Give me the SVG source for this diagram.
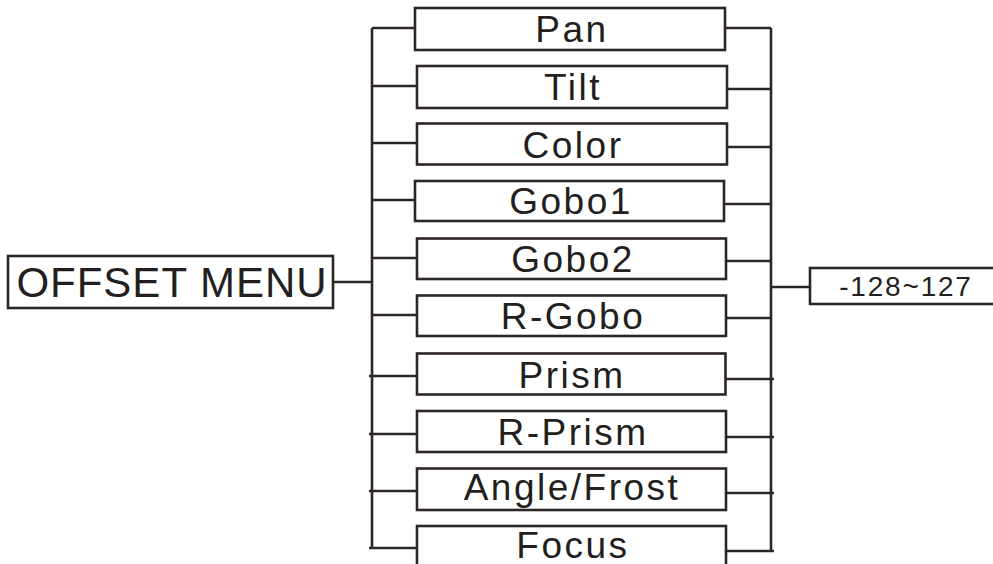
<svg xmlns="http://www.w3.org/2000/svg" width="993" height="564" viewBox="0 0 993 564">
<style>
.box{fill:#fff;stroke:#2d2627;stroke-width:2.6}
.ln{fill:none;stroke:#2d2627;stroke-width:2.6}
.t{font-family:"Liberation Sans",Arial,sans-serif;fill:#231f20;text-anchor:middle;font-size:37px;letter-spacing:2.5px}
</style>
<rect width="993" height="564" fill="#fff"/>
<g id="connectors">
<path class="ln" d="M333 282H372M372 28V548M771 28V551M771 287H810"/>
<path class="ln" d="M372 28H415M372 86H417M372 143H417M372 200H415M372 258H417M372 315H417M369 376H417M369 434H417M369 491H417M369 548H417"/>
<path class="ln" d="M725 28H771M727 89H771M727 147H771M724 204H771M726 261H771M726 318H771M725 379H774M726 437H774M726 493H774M726 551H774"/>
</g>
<g id="offset-menu"><rect class="box" x="8" y="256" width="325" height="52"/><text class="t" x="172" y="297" style="font-size:42px;letter-spacing:1px">OFFSET MENU</text></g>
<g id="pan"><rect class="box" x="415" y="8" width="310" height="42"/><text class="t" x="572" y="42">Pan</text></g>
<g id="tilt"><rect class="box" x="417" y="66" width="310" height="42"/><text class="t" x="573" y="100">Tilt</text></g>
<g id="color"><rect class="box" x="417" y="123.5" width="310" height="41"/><text class="t" x="573" y="157.5">Color</text></g>
<g id="gobo1"><rect class="box" x="415" y="181" width="309" height="40"/><text class="t" x="571" y="214">Gobo1</text></g>
<g id="gobo2"><rect class="box" x="417" y="238.5" width="309" height="40.5"/><text class="t" x="573" y="272">Gobo2</text></g>
<g id="r-gobo"><rect class="box" x="417" y="295.5" width="309" height="40.5"/><text class="t" x="573" y="329">R-Gobo</text></g>
<g id="prism"><rect class="box" x="417" y="353.5" width="308.5" height="41"/><text class="t" x="572" y="387.5">Prism</text></g>
<g id="r-prism"><rect class="box" x="417" y="411" width="309" height="41"/><text class="t" x="573" y="445">R-Prism</text></g>
<g id="angle-frost"><rect class="box" x="417" y="468.5" width="309" height="41.5"/><text class="t" x="572" y="499.5">Angle/Frost</text></g>
<g id="focus"><rect class="box" x="417" y="526" width="309" height="50"/><text class="t" x="573" y="558">Focus</text></g>
<g id="range"><rect class="box" x="810" y="268" width="200" height="36"/><text class="t" x="906" y="296" style="font-size:28px;letter-spacing:1.8px">-128~127</text></g>
</svg>
